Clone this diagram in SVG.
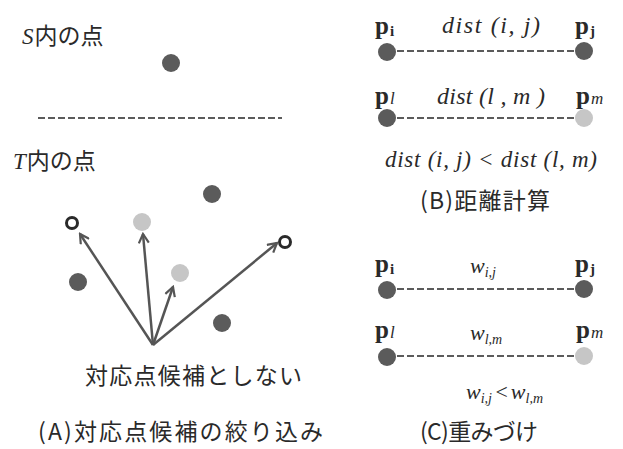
<svg xmlns="http://www.w3.org/2000/svg" width="623" height="449" viewBox="0 0 623 449">
<style>
.jp{font-family:"Noto Sans CJK JP","Noto Sans",sans-serif;fill:#2a2a2a}
.it{font-family:"Liberation Serif",serif;font-style:italic;fill:#2a2a2a}
.pb{font-family:"Liberation Serif",serif;font-weight:bold;fill:#2a2a2a;font-size:25px}
.sb{font-size:15px}
.dk{fill:#5b5b5b}
.lt{fill:#c6c6c6}
.ho{fill:none;stroke:#2a2a2a;stroke-width:3}
.dash{stroke:#5b5b5b;stroke-width:2;stroke-dasharray:7 3;fill:none}
.arr{stroke:#555;stroke-width:2.5;fill:none;marker-end:url(#ah)}
</style>
<defs>
<marker id="ah" viewBox="0 0 12 12" refX="10" refY="6" markerWidth="12" markerHeight="12" markerUnits="userSpaceOnUse" orient="auto">
<path d="M1,1 L10,6 L1,11" fill="none" stroke="#555" stroke-width="2.2"/>
</marker>
</defs>
<rect width="623" height="449" fill="#fff"/>

<g id="panelA">
<text x="22" y="44" font-size="23"><tspan class="it">S</tspan><tspan class="jp" dx="1">内の点</tspan></text>
<g id="s-point"><circle class="dk" cx="171" cy="63" r="9"/></g>
<line class="dash" x1="38" y1="118" x2="282" y2="118"/>
<text x="13" y="169" font-size="23"><tspan class="it">T</tspan><tspan class="jp" dx="1">内の点</tspan></text>
<g id="t1"><circle class="dk" cx="212" cy="194" r="9"/></g>
<g id="t2"><circle class="ho" cx="72" cy="223" r="5.5"/></g>
<g id="t3"><circle class="lt" cx="142" cy="222" r="9"/></g>
<g id="t4"><circle class="ho" cx="285" cy="242" r="5.5"/></g>
<g id="t5"><circle class="lt" cx="180" cy="273" r="9"/></g>
<g id="t6"><circle class="dk" cx="78" cy="282" r="9"/></g>
<g id="t7"><circle class="dk" cx="222" cy="323" r="9"/></g>
<g id="arrows">
<line class="arr" x1="153" y1="345" x2="80" y2="234"/>
<line class="arr" x1="153" y1="345" x2="143" y2="234"/>
<line class="arr" x1="153" y1="345" x2="173" y2="287"/>
<line class="arr" x1="153" y1="345" x2="277" y2="243"/>
</g>
<text class="jp" x="85" y="384" font-size="23" textLength="217">対応点候補としない</text>
<text class="jp" x="38" y="440" font-size="23" textLength="285">(A)対応点候補の絞り込み</text>
</g>

<g id="panelB">
<text class="pb" x="375" y="34">p<tspan class="sb" dx="1" dy="2">i</tspan></text>
<text class="it" x="442" y="33" font-size="24" textLength="98">dist (i, j)</text>
<text class="pb" x="575" y="34">p<tspan class="sb" dx="1" dy="2">j</tspan></text>
<g id="b-pi"><circle class="dk" cx="387" cy="52" r="9"/></g>
<g id="b-pj"><circle class="dk" cx="584" cy="51" r="9"/></g>
<line class="dash" x1="397" y1="51" x2="575" y2="51"/>
<text class="pb" x="375" y="104">p<tspan class="it" font-weight="normal" font-size="17" dx="1">l</tspan></text>
<text class="it" x="437" y="104" font-size="24" textLength="108">dist (l , m )</text>
<text class="pb" x="576" y="104">p<tspan class="it" font-weight="normal" font-size="17" dx="1">m</tspan></text>
<g id="b-pl"><circle class="dk" cx="387" cy="118" r="9"/></g>
<g id="b-pm"><circle class="lt" cx="584" cy="118" r="9"/></g>
<line class="dash" x1="397" y1="118" x2="575" y2="118"/>
<text class="it" x="385" y="167" font-size="23" textLength="212">dist (i, j) &lt; dist (l, m)</text>
<text class="jp" x="420" y="209" font-size="23" textLength="130">(B)距離計算</text>
</g>

<g id="panelC">
<text class="pb" x="375" y="272">p<tspan class="sb" dx="1" dy="2">i</tspan></text>
<text class="it" x="470" y="273" font-size="22">w<tspan font-size="14" dy="4">i,j</tspan></text>
<text class="pb" x="575" y="272">p<tspan class="sb" dx="1" dy="2">j</tspan></text>
<g id="c-pi"><circle class="dk" cx="387" cy="290" r="9"/></g>
<g id="c-pj"><circle class="dk" cx="584" cy="289" r="9"/></g>
<line class="dash" x1="397" y1="289" x2="575" y2="289"/>
<text class="pb" x="375" y="338">p<tspan class="it" font-weight="normal" font-size="17" dx="1">l</tspan></text>
<text class="it" x="470" y="340" font-size="22">w<tspan font-size="14" dy="4">l,m</tspan></text>
<text class="pb" x="576" y="338">p<tspan class="it" font-weight="normal" font-size="17" dx="1">m</tspan></text>
<g id="c-pl"><circle class="dk" cx="387" cy="357" r="9"/></g>
<g id="c-pm"><circle class="lt" cx="584" cy="356" r="9"/></g>
<line class="dash" x1="397" y1="356" x2="575" y2="356"/>
<text class="it" x="466" y="399" font-size="22">w<tspan font-size="14" dy="4">i,j</tspan><tspan dy="-4" dx="2">&lt;</tspan><tspan dx="2">w</tspan><tspan font-size="14" dy="4">l,m</tspan></text>
<text class="jp" x="420" y="440" font-size="23" textLength="118">(C)重みづけ</text>
</g>
</svg>
